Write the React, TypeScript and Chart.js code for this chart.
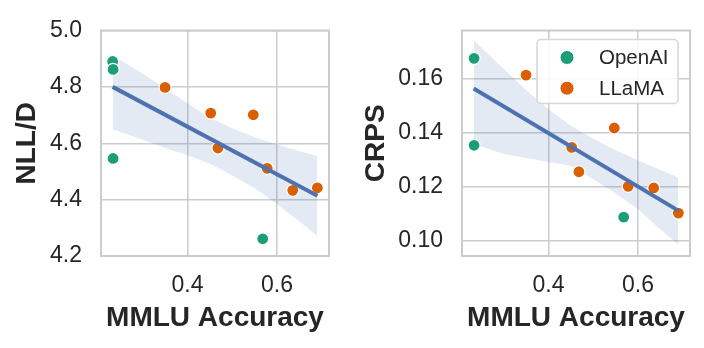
import { useEffect, useRef } from "react";
import { Chart, registerables } from "chart.js";

Chart.register(...registerables);

// ---- data ----
const LEGEND_LABELS = ["OpenAI", "LLaMA"];

const MMLU_OPENAI = [0.233, 0.234, 0.234, 0.568];
const NLL_OPENAI = [4.89, 4.862, 4.546, 4.261];
const CRPS_OPENAI = [0.1677, 0.1674, 0.1352, 0.1086];

const MMLU_LLAMA = [0.35, 0.452, 0.547, 0.468, 0.578, 0.635, 0.69];
const NLL_LLAMA = [4.798, 4.707, 4.701, 4.583, 4.511, 4.433, 4.442];
const CRPS_LLAMA = [0.1612, 0.1344, 0.1416, 0.1254, 0.12, 0.1194, 0.1101];

const FIT_X = [0.233, 0.69];
const NLL_FIT = [4.8, 4.414];
const CRPS_FIT = [0.1562, 0.111];

const BAND_X = [0.233, 0.3, 0.35, 0.4, 0.45, 0.5, 0.55, 0.6, 0.65, 0.69];
const NLL_UPPER = [4.912, 4.847, 4.795, 4.742, 4.69, 4.653, 4.621, 4.596, 4.572, 4.555];
const NLL_LOWER = [4.65, 4.612, 4.583, 4.557, 4.527, 4.486, 4.441, 4.384, 4.322, 4.271];
const CRPS_UPPER = [0.1741, 0.1635, 0.1557, 0.1485, 0.1424, 0.1376, 0.1334, 0.1297, 0.126, 0.1233];
const CRPS_LOWER = [0.1357, 0.132, 0.1305, 0.129, 0.1276, 0.1226, 0.1174, 0.1115, 0.104, 0.0985];

const X_TICKS = [0.4, 0.6];
const NLL_TICKS = [4.2, 4.4, 4.6, 4.8, 5.0];
const CRPS_TICKS = [0.1, 0.12, 0.14, 0.16];

// ---- style ----
const FONT = "'Liberation Sans', Arial, Helvetica, sans-serif";
const TEXT = "#262626";
const GRID = "#cccccc";
const GREEN = "#1b9e77";
const ORANGE = "#d95f02";
const BLUE = "#4c72b0";
const BAND = "rgba(76,114,176,0.15)";

function pts(xs: number[], ys: number[]) {
  return xs.map((x, i) => ({ x, y: ys[i] }));
}

const framePlugin = {
  id: "frame",
  beforeDatasetsDraw(chart: any) {
    const { ctx, chartArea } = chart;
    ctx.save();
    ctx.strokeStyle = GRID;
    ctx.lineWidth = 2;
    ctx.strokeRect(chartArea.left, chartArea.top, chartArea.right - chartArea.left, chartArea.bottom - chartArea.top);
    ctx.restore();
  },
};

const legendPlugin = {
  id: "insetLegend",
  afterDraw(chart: any) {
    const { ctx, chartArea } = chart;
    const w = 141;
    const h = 64;
    const x0 = chartArea.right - 12 - w;
    const y0 = chartArea.top + 9;
    ctx.save();
    ctx.beginPath();
    if (ctx.roundRect) ctx.roundRect(x0, y0, w, h, 4);
    else ctx.rect(x0, y0, w, h);
    ctx.fillStyle = "rgba(255,255,255,0.85)";
    ctx.fill();
    ctx.strokeStyle = "#d6d6d6";
    ctx.lineWidth = 1.5;
    ctx.stroke();
    const colors = [GREEN, ORANGE];
    LEGEND_LABELS.forEach((label, i) => {
      const cy = y0 + 18 + i * 30.7;
      ctx.beginPath();
      ctx.arc(x0 + 30, cy, 7, 0, Math.PI * 2);
      ctx.fillStyle = colors[i];
      ctx.fill();
      ctx.strokeStyle = "#ffffff";
      ctx.lineWidth = 1;
      ctx.stroke();
      ctx.fillStyle = TEXT;
      ctx.font = `20.5px ${FONT}`;
      ctx.textBaseline = "middle";
      ctx.textAlign = "left";
      ctx.fillText(label, x0 + 62, cy + 1);
    });
    ctx.restore();
  },
};

interface PanelSpec {
  yOpenAI: number[];
  yLlama: number[];
  yFit: number[];
  yUpper: number[];
  yLower: number[];
  yTicks: number[];
  yMin: number;
  yMax: number;
  decimals: number;
  yTitle: string;
  titlePad: number;
  yWidth: number;
  rightPad: number;
  legend: boolean;
}

function makeConfig(p: PanelSpec): any {
  const pointStyle = {
    borderColor: "#ffffff",
    borderWidth: 1.2,
    pointRadius: 6,
    pointHoverRadius: 6,
    order: 1,
  };
  return {
    type: "scatter",
    data: {
      datasets: [
        { label: LEGEND_LABELS[0], data: pts(MMLU_OPENAI, p.yOpenAI), backgroundColor: GREEN, ...pointStyle },
        { label: LEGEND_LABELS[1], data: pts(MMLU_LLAMA, p.yLlama), backgroundColor: ORANGE, ...pointStyle },
        {
          label: "fit",
          data: pts(FIT_X, p.yFit),
          showLine: true,
          borderColor: BLUE,
          borderWidth: 4,
          pointRadius: 0,
          fill: false,
          tension: 0,
          borderCapStyle: "butt",
          order: 0,
        },
        {
          label: "ci-upper",
          data: pts(BAND_X, p.yUpper),
          showLine: true,
          borderColor: "transparent",
          borderWidth: 0,
          pointRadius: 0,
          fill: "+1",
          backgroundColor: BAND,
          tension: 0,
          order: 2,
        },
        {
          label: "ci-lower",
          data: pts(BAND_X, p.yLower),
          showLine: true,
          borderColor: "transparent",
          borderWidth: 0,
          pointRadius: 0,
          fill: false,
          tension: 0,
          order: 2,
        },
      ],
    },
    options: {
      responsive: false,
      animation: false,
      devicePixelRatio: 1,
      layout: { padding: { top: 24, right: p.rightPad, bottom: 0, left: 0 } },
      plugins: {
        legend: { display: false },
        tooltip: { enabled: false },
      },
      scales: {
        x: {
          type: "linear",
          min: 0.207,
          max: 0.716,
          afterBuildTicks: (s: any) => {
            s.ticks = X_TICKS.map((v) => ({ value: v }));
          },
          afterFit: (s: any) => {
            s.height = 92;
          },
          grid: { color: GRID, lineWidth: 1.5, drawTicks: false },
          border: { display: false },
          ticks: {
            padding: 18,
            color: TEXT,
            font: { family: FONT, size: 23, lineHeight: 1 },
            maxRotation: 0,
            autoSkip: false,
            callback: (v: any) => Number(v).toFixed(1),
          },
          title: {
            display: true,
            text: "MMLU Accuracy",
            color: TEXT,
            font: { family: FONT, size: 28, weight: "bold", lineHeight: 1 },
            padding: { top: 0, bottom: 16 },
          },
        },
        y: {
          type: "linear",
          min: p.yMin,
          max: p.yMax,
          afterBuildTicks: (s: any) => {
            s.ticks = p.yTicks.map((v) => ({ value: v }));
          },
          afterFit: (s: any) => {
            s.width = p.yWidth;
          },
          grid: { color: GRID, lineWidth: 1.5, drawTicks: false },
          border: { display: false },
          ticks: {
            padding: 19,
            color: TEXT,
            font: { family: FONT, size: 23, lineHeight: 1 },
            autoSkip: false,
            callback: (v: any) => Number(v).toFixed(p.decimals),
          },
          title: {
            display: true,
            text: p.yTitle,
            color: TEXT,
            font: { family: FONT, size: 28, weight: "bold", lineHeight: 1 },
            padding: { top: p.titlePad, bottom: 0 },
          },
        },
      },
    },
    plugins: p.legend ? [framePlugin, legendPlugin] : [framePlugin],
  };
}

const LEFT: PanelSpec = {
  yOpenAI: NLL_OPENAI,
  yLlama: NLL_LLAMA,
  yFit: NLL_FIT,
  yUpper: NLL_UPPER,
  yLower: NLL_LOWER,
  yTicks: NLL_TICKS,
  yMin: 4.2,
  yMax: 5.0,
  decimals: 1,
  yTitle: "NLL/D",
  titlePad: 13,
  yWidth: 101,
  rightPad: 23,
  legend: false,
};

const RIGHT: PanelSpec = {
  yOpenAI: CRPS_OPENAI,
  yLlama: CRPS_LLAMA,
  yFit: CRPS_FIT,
  yUpper: CRPS_UPPER,
  yLower: CRPS_LOWER,
  yTicks: CRPS_TICKS,
  yMin: 0.0942,
  yMax: 0.1777,
  decimals: 2,
  yTitle: "CRPS",
  titlePad: 10,
  yWidth: 110,
  rightPad: 14,
  legend: true,
};

function Panel({ spec, left }: { spec: PanelSpec; left: number }) {
  const ref = useRef<HTMLCanvasElement | null>(null);
  useEffect(() => {
    if (!ref.current) return;
    const chart = new Chart(ref.current, makeConfig(spec));
    return () => chart.destroy();
  }, [spec]);
  return (
    <canvas
      ref={ref}
      width={352}
      height={348}
      style={{ position: "absolute", left, top: 0, width: 352, height: 348 }}
    />
  );
}

export default function App() {
  return (
    <div
      style={{
        position: "fixed",
        left: 0,
        top: 0,
        width: 704,
        height: 348,
        background: "#ffffff",
        overflow: "hidden",
      }}
    >
      <Panel spec={LEFT} left={0} />
      <Panel spec={RIGHT} left={352} />
    </div>
  );
}
